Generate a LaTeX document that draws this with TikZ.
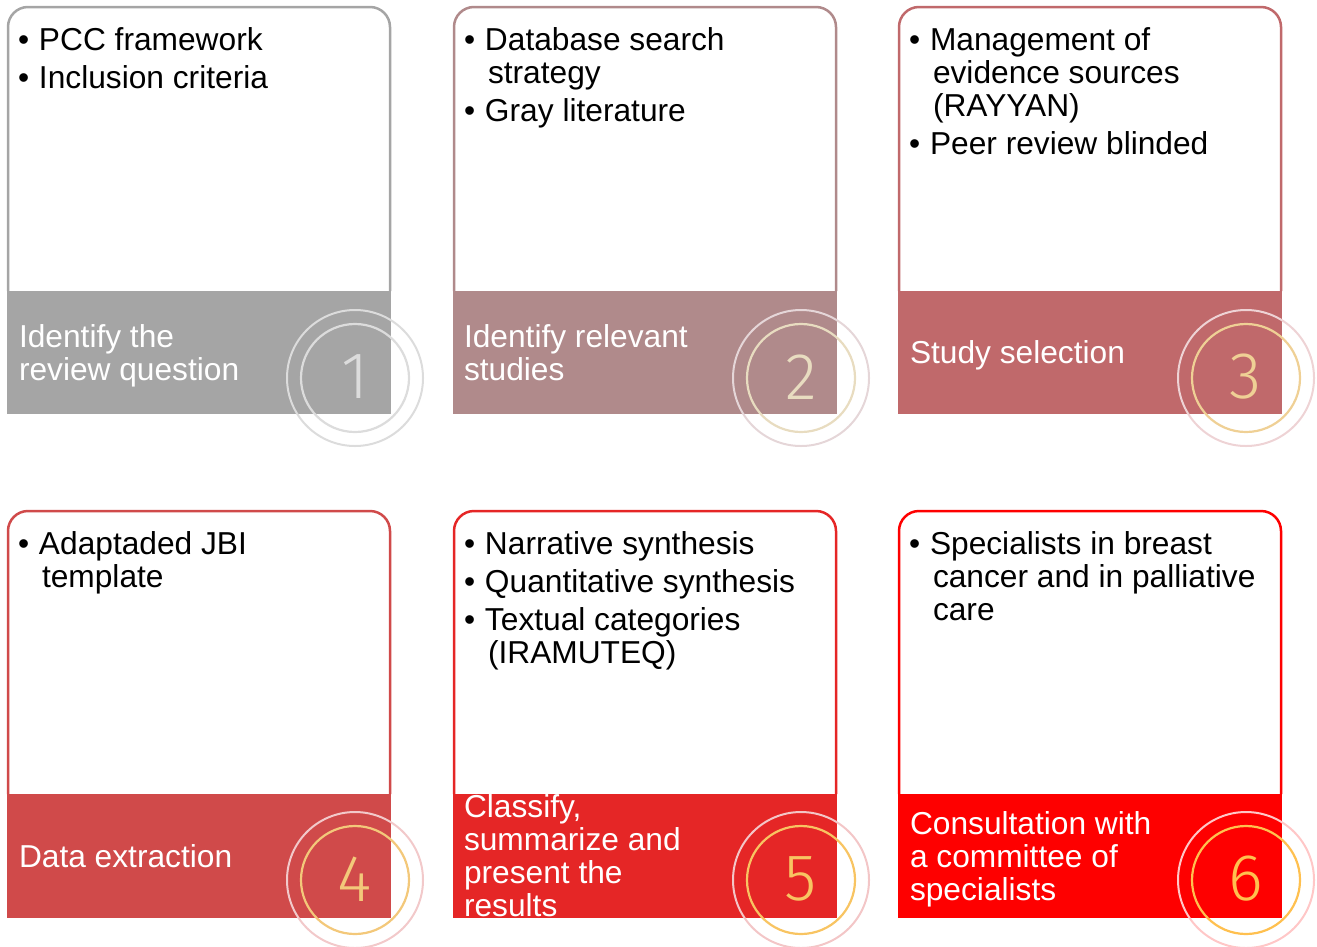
\documentclass[tikz,border=0pt]{standalone}
\usepackage{fontspec}
\setmainfont{Liberation Sans}
\newfontfamily\numfont{Fira Sans Light}
\definecolor{band1}{HTML}{A5A5A5}
\definecolor{band2}{HTML}{B08A8B}
\definecolor{band3}{HTML}{C0696B}
\definecolor{band4}{HTML}{D04A4A}
\definecolor{band5}{HTML}{E52626}
\definecolor{band6}{HTML}{FE0000}
\definecolor{outer1}{HTML}{DCDCDC}
\definecolor{outer2}{HTML}{E5D6D8}
\definecolor{outer3}{HTML}{EED3D5}
\definecolor{outer4}{HTML}{F2C9CA}
\definecolor{outer5}{HTML}{F3C6C7}
\definecolor{outer6}{HTML}{FFC7C7}
\definecolor{inner1}{HTML}{DCDCDC}
\definecolor{inner2}{HTML}{E8DCC0}
\definecolor{inner3}{HTML}{EFD095}
\definecolor{inner4}{HTML}{F3C87A}
\definecolor{inner5}{HTML}{F8C462}
\definecolor{inner6}{HTML}{FFC04F}
\newcommand\txtfont{\fontsize{31.7bp}{33bp}\selectfont}
\newcommand\bitem[1]{\par\noindent\hangindent=24bp\hangafter=1\makebox[21bp][l]{\textbullet}#1}
\newcommand\bsep{\par\vspace{5bp}}
\tikzset{
  cardline/.style={line width=2.5bp, rounded corners=20bp},
  bullettxt/.style={anchor=base west, inner sep=0pt, outer sep=0pt, text=black, font=\txtfont},
  bandtxt/.style={anchor=base west, inner sep=0pt, outer sep=0pt, text=white, font=\txtfont},
  numtxt/.style={anchor=center, inner sep=0pt, font=\numfont\fontsize{66bp}{66bp}\selectfont},
  outerring/.style={line width=2bp},
  innerring/.style={line width=2.2bp}
}
\begin{document}
\begin{tikzpicture}[x=1bp,y=-1bp]
\useasboundingbox (0,0) rectangle (1317,946);
% ---------- card 1
\begin{scope}[shift={(8,7)}]
  \draw[cardline, band1] (0,284) -- (0,0) -- (382,0) -- (382,284);
  \fill[band1] (-1,284) rectangle (383,407);
  \draw[outerring, outer1] (347,371) circle[radius=68];
  \draw[innerring, inner1] (347,371) circle[radius=54];
  \node[numtxt, text=inner1] (n1) at (347,370) {1};
  \node[bullettxt] (t1) at (10,43.5) {\parbox[t]{360bp}{\raggedright
    \bitem{PCC framework}\bsep
    \bitem{Inclusion criteria}}};
  \node[bandtxt] (b1) at (11,340) {\parbox[t]{300bp}{\raggedright Identify the\\review question}};
\end{scope}
% ---------- card 2
\begin{scope}[shift={(454,7)}]
  \draw[cardline, band2] (0,284) -- (0,0) -- (382,0) -- (382,284);
  \fill[band2] (-1,284) rectangle (383,407);
  \draw[outerring, outer2] (347,371) circle[radius=68];
  \draw[innerring, inner2] (347,371) circle[radius=54];
  \node[numtxt, text=inner2] (n2) at (347,370) {2};
  \node[bullettxt] (t2) at (10,43.5) {\parbox[t]{360bp}{\raggedright
    \bitem{Database search\newline strategy}\bsep
    \bitem{Gray literature}}};
  \node[bandtxt] (b2) at (10,340) {\parbox[t]{300bp}{\raggedright Identify relevant\\studies}};
\end{scope}
% ---------- card 3
\begin{scope}[shift={(899,7)}]
  \draw[cardline, band3] (0,284) -- (0,0) -- (382,0) -- (382,284);
  \fill[band3] (-1,284) rectangle (383,407);
  \draw[outerring, outer3] (347,371) circle[radius=68];
  \draw[innerring, inner3] (347,371) circle[radius=54];
  \node[numtxt, text=inner3] (n3) at (347,370) {3};
  \node[bullettxt] (t3) at (10,43.5) {\parbox[t]{360bp}{\raggedright
    \bitem{Management of\newline evidence sources\newline (RAYYAN)}\bsep
    \bitem{Peer review blinded}}};
  \node[bandtxt] (b3) at (11,356.5) {\parbox[t]{300bp}{\raggedright Study selection}};
\end{scope}
% ---------- card 4
\begin{scope}[shift={(8,511)}]
  \draw[cardline, band4] (0,283) -- (0,0) -- (382,0) -- (382,283);
  \fill[band4] (-1,283) rectangle (383,407);
  \draw[outerring, outer4] (347,369) circle[radius=68];
  \draw[innerring, inner4] (347,369) circle[radius=54];
  \node[numtxt, text=inner4] (n4) at (347,368) {4};
  \node[bullettxt] (t4) at (10,43.5) {\parbox[t]{360bp}{\raggedright
    \bitem{Adaptaded JBI\newline template}}};
  \node[bandtxt] (b4) at (11,356) {\parbox[t]{300bp}{\raggedright Data extraction}};
\end{scope}
% ---------- card 5
\begin{scope}[shift={(454,511)}]
  \draw[cardline, band5] (0,283) -- (0,0) -- (382,0) -- (382,283);
  \fill[band5] (-1,283) rectangle (383,407);
  \draw[outerring, outer5] (347,369) circle[radius=68];
  \draw[innerring, inner5] (347,369) circle[radius=54];
  \node[numtxt, text=inner5] (n5) at (347,368) {5};
  \node[bullettxt] (t5) at (10,43.5) {\parbox[t]{360bp}{\raggedright
    \bitem{Narrative synthesis}\bsep
    \bitem{Quantitative synthesis}\bsep
    \bitem{Textual categories\newline (IRAMUTEQ)}}};
  \node[bandtxt] (b5) at (10,306.5) {\parbox[t]{300bp}{\raggedright Classify,\\summarize and\\present the\\results}};
\end{scope}
% ---------- card 6
\begin{scope}[shift={(899,511)}]
  \draw[cardline, band6] (0,283) -- (0,0) -- (382,0) -- (382,283);
  \fill[band6] (-1,283) rectangle (383,407);
  \draw[outerring, outer6] (347,369) circle[radius=68];
  \draw[innerring, inner6] (347,369) circle[radius=54];
  \node[numtxt, text=inner6] (n6) at (347,368) {6};
  \node[bullettxt] (t6) at (10,43.5) {\parbox[t]{360bp}{\raggedright
    \bitem{Specialists in breast\newline cancer and in palliative\newline care}}};
  \node[bandtxt] (b6) at (11,323) {\parbox[t]{300bp}{\raggedright Consultation with\\a committee of\\specialists}};
\end{scope}
\end{tikzpicture}
\end{document}
